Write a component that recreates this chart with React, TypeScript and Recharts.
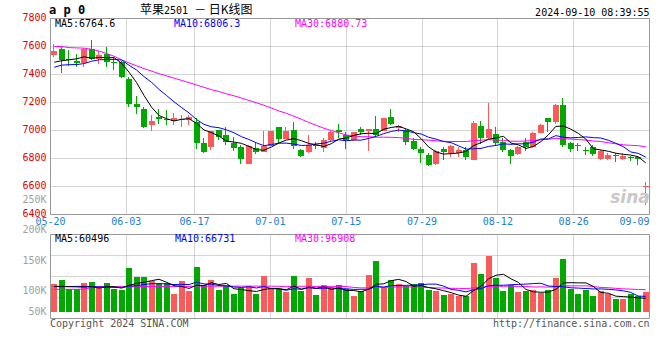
import React from 'react';
import { ComposedChart, Bar, Line, XAxis, YAxis, CartesianGrid } from 'recharts';

// ---------- data ----------
const DATES = [
  '05-21','05-22','05-23','05-24','05-27','05-28','05-29','05-30','05-31','06-03',
  '06-04','06-05','06-06','06-07','06-11','06-12','06-13','06-14','06-17','06-18',
  '06-19','06-20','06-21','06-24','06-25','06-26','06-27','06-28','07-01','07-02',
  '07-03','07-04','07-05','07-08','07-09','07-10','07-11','07-12','07-15','07-16',
  '07-17','07-18','07-19','07-22','07-23','07-24','07-25','07-26','07-29','07-30',
  '07-31','08-01','08-02','08-05','08-06','08-07','08-08','08-09','08-12','08-13',
  '08-14','08-15','08-16','08-19','08-20','08-21','08-22','08-23','08-26','08-27',
  '08-28','08-29','08-30','09-02','09-03','09-04','09-05','09-06','09-09','09-10',
];

const OPEN = [
  7540, 7580, 7512, 7493, 7483, 7583, 7512, 7548, 7490, 7488,
  7369, 7190, 7155, 7036, 7100, 7084, 7067, 7077, 7076, 7060,
  6914, 6881, 7000, 6971, 6912, 6881, 6762, 6876, 6848, 6890,
  7024, 6938, 7005, 6860, 6843, 6898, 6876, 6931, 7002, 6971,
  6931, 7010, 7000, 7010, 7000, 7100, 7021, 7007, 6924, 6871,
  6824, 6760, 6867, 6836, 6836, 6860, 6788, 7031, 6948, 6974,
  6919, 6864, 6831, 6919, 6879, 6983, 7086, 7062, 7181, 6914,
  6893, 6862, 6879, 6793, 6793, 6826, 6793, 6810, 6812, 6600,
];
const HIGH = [
  7618, 7595, 7572, 7548, 7590, 7643, 7567, 7600, 7524, 7500,
  7381, 7250, 7171, 7114, 7155, 7150, 7124, 7114, 7112, 7090,
  6948, 7000, 7005, 7024, 6952, 6893, 6900, 6919, 6995, 6997,
  7026, 7024, 7060, 6871, 6967, 6919, 6943, 6995, 7045, 6986,
  6990, 7024, 7012, 7102, 7090, 7152, 7038, 7014, 6943, 6880,
  6836, 6860, 6883, 6895, 6883, 6883, 7069, 7067, 7200, 7026,
  6943, 6871, 6888, 6950, 6990, 7050, 7088, 7190, 7231, 6920,
  6914, 6883, 6895, 6864, 6836, 6836, 6836, 6821, 6817, 6633,
];
const LOW = [
  7526, 7410, 7464, 7452, 7452, 7505, 7476, 7452, 7433, 7376,
  7167, 7119, 7017, 7000, 7048, 7036, 7040, 7024, 7036, 6869,
  6838, 6862, 6929, 6893, 6857, 6762, 6760, 6829, 6843, 6888,
  6914, 6936, 6871, 6810, 6840, 6867, 6848, 6928, 6948, 6871,
  6928, 6967, 6852, 6955, 6995, 7040, 6990, 6895, 6860, 6769,
  6748, 6752, 6788, 6812, 6812, 6788, 6788, 6902, 6940, 6895,
  6848, 6760, 6824, 6855, 6876, 6980, 6990, 7050, 6883, 6848,
  6855, 6824, 6817, 6790, 6790, 6776, 6788, 6783, 6757, 6467,
];
const CLOSE = [
  7566, 7505, 7500, 7479, 7583, 7512, 7536, 7488, 7484, 7381,
  7190, 7167, 7024, 7071, 7081, 7078, 7086, 7083, 7095, 6910,
  6845, 6993, 6957, 6917, 6876, 6798, 6886, 6843, 6890, 6995,
  6938, 6995, 6890, 6819, 6895, 6893, 6931, 6990, 6986, 6931,
  6986, 6990, 7010, 6971, 7088, 7048, 7031, 6919, 6871, 6840,
  6752, 6852, 6843, 6888, 6860, 6812, 7057, 6948, 7010, 6912,
  6864, 6819, 6881, 6883, 6983, 7038, 7062, 7181, 6895, 6871,
  6888, 6860, 6831, 6855, 6824, 6820, 6819, 6805, 6793, 6605,
];

const MA5 = [
  7488, 7498, 7505, 7512, 7526.6, 7515.8, 7522, 7519.6, 7520.6, 7480.2,
  7415.8, 7342, 7249.2, 7166.6, 7106.6, 7084.2, 7068, 7079.8, 7084.6, 7050.4,
  7003.8, 6985.2, 6960, 6924.4, 6917.6, 6908.2, 6886.8, 6864, 6858.6, 6882.4,
  6910.4, 6932.2, 6941.6, 6927.4, 6907.4, 6898.4, 6885.6, 6905.6, 6939, 6946.2,
  6964.8, 6976.6, 6980.6, 6977.6, 7009, 7021.4, 7029.6, 7011.4, 6991.4, 6941.8,
  6882.6, 6846.8, 6831.6, 6835, 6839, 6851, 6892, 6913, 6937.4, 6947.8,
  6958.2, 6910.6, 6897.2, 6871.8, 6886, 6920.8, 6969.4, 7029.4, 7031.8, 7009.4,
  6979.4, 6939, 6869, 6861, 6851.6, 6838, 6829.8, 6824.6, 6812.2, 6768.4,
];
const MA10 = [
  7452, 7467, 7470, 7471, 7478, 7495, 7505, 7507, 7508, 7503.4,
  7465.8, 7432, 7384.4, 7343.6, 7293.4, 7250, 7205, 7164.5, 7125.6, 7078.5,
  7044, 7026.6, 7019.9, 7004.5, 6984, 6956, 6936, 6912, 6891.5, 6900,
  6909.3, 6909.5, 6902.8, 6893, 6894.9, 6904.4, 6908.9, 6923.6, 6933.2, 6926.8,
  6931.6, 6931.1, 6943.1, 6958.3, 6977.6, 6993.1, 7003.1, 6996, 6984.5, 6975.4,
  6952, 6938.2, 6921.5, 6913.2, 6890.4, 6866.8, 6869.4, 6872.3, 6886.2, 6893.4,
  6904.6, 6901.3, 6905.1, 6904.6, 6916.9, 6939.5, 6940, 6963.3, 6951.8, 6947.7,
  6950.1, 6954.2, 6949.2, 6946.4, 6930.5, 6908.7, 6884.4, 6846.8, 6836.6, 6810,
];
const MA30 = [
  7600, 7600, 7592, 7590, 7588, 7580, 7567, 7550, 7530, 7505,
  7482, 7462, 7442, 7424, 7406, 7390, 7374, 7358, 7342, 7325,
  7308, 7292, 7278, 7262, 7248, 7232, 7215, 7198, 7180, 7160.6,
  7139.7, 7122.7, 7102.4, 7080.4, 7057.4, 7036.8, 7016.6, 7000, 6983.4, 6968.4,
  6961.6, 6955.7, 6955.3, 6951.9, 6952.2, 6951.2, 6949.3, 6943.9, 6936.4, 6934.1,
  6931, 6926.3, 6922.5, 6921.5, 6921, 6921.4, 6927.1, 6930.6, 6934.6, 6931.9,
  6929.4, 6923.5, 6923.2, 6925.4, 6928.3, 6933.1, 6937.5, 6943.9, 6940.8, 6938.8,
  6935.6, 6931.2, 6925.3, 6921.4, 6912.6, 6905, 6897.9, 6894.1, 6891.5, 6883.7,
];

// volume in thousands of lots
const VOL = [
  115, 131, 93, 93, 119, 123, 104, 119, 94, 90,
  180, 143, 143, 127, 118, 118, 74, 127, 86, 184,
  112, 131, 90, 109, 74, 97, 107, 74, 149, 97,
  94, 82, 149, 86, 139, 70, 112, 97, 111, 93,
  67, 86, 152, 209, 104, 131, 113, 107, 113, 118,
  90, 86, 70, 74, 66, 67, 202, 156, 230, 139,
  86, 109, 82, 86, 90, 78, 90, 139, 217, 95,
  74, 90, 67, 86, 74, 53, 53, 74, 67, 82,
];
const VMA5 = [
  105, 105, 104, 103, 102.2, 103.8, 98.4, 103.6, 103.8, 98,
  109.4, 117.2, 122, 128.6, 134.2, 121.8, 108, 104.8, 96.6, 109.8,
  108.6, 120, 112.6, 117.2, 95.2, 92.2, 87.4, 84.2, 92.2, 96.8,
  96.2, 91.2, 106.2, 93.6, 102, 97.2, 103.2, 92.8, 97.8, 88.6,
  88, 82.8, 93.8, 113.4, 115.6, 128.4, 133.8, 124.8, 105.6, 108.4,
  100.2, 94.8, 87.4, 79.6, 69.2, 64.6, 87.8, 105, 136.2, 150.8,
  154.6, 136, 121.2, 92.4, 82.6, 81, 81.6, 93, 119.2, 120.2,
  119.4, 119.4, 105, 80, 77, 65, 63, 61, 58, 56,
];
const VMA10 = [
  104, 104, 104, 105, 105, 104, 103, 102, 101, 100.1,
  106.6, 107.8, 112.8, 116.2, 116.1, 115.6, 112.6, 113.4, 112.6, 122,
  115.2, 114, 108.7, 106.9, 102.5, 100.4, 103.7, 98.4, 104.7, 96,
  94.2, 89.3, 95.2, 92.9, 99.4, 96.7, 97.2, 99.5, 95.7, 95.3,
  92.6, 93, 93.3, 105.6, 102.1, 108.2, 108.3, 109.3, 109.5, 112,
  114.3, 114.3, 106.1, 92.6, 88.8, 82.4, 91.3, 96.2, 107.9, 110,
  109.6, 111.9, 113.1, 114.3, 116.7, 117.8, 106.6, 104.9, 103.6, 99.2,
  98, 96.1, 94.6, 94.6, 93, 90.5, 86.8, 80.3, 65.3, 64,
];
const VMA30 = [
  93, 93, 93, 93, 94, 100, 104, 104, 104, 104,
  104, 104, 104, 105, 105, 105, 105, 105, 105, 106,
  106, 106, 106, 106, 106, 106, 106, 106, 106, 106,
  105.3, 103.7, 105.6, 105.3, 106, 104.2, 104.5, 103.8, 104.3, 104.4,
  100.7, 98.8, 99.1, 101.8, 101.3, 101.8, 103.1, 102.4, 103.3, 101.1,
  100.4, 98.9, 98.2, 97, 96.8, 95.8, 98.9, 101.7, 104.4, 105.8,
  105.5, 106.4, 104.2, 104.2, 102.5, 102.8, 102.1, 103.5, 107, 107.1,
  107.3, 107.4, 104.6, 100.5, 99.5, 96.9, 94.9, 93.8, 92.3, 91.1,
];

const TICK_POS = [0, 10, 19, 29, 39, 49, 59, 69, 79];
const TICK_LABELS = ['05-20', '06-03', '06-17', '07-01', '07-15', '07-29', '08-12', '08-26', '09-09'];
const PRICE_TICKS = [6400, 6600, 6800, 7000, 7200, 7400, 7600, 7800];
const VOL_LABEL_TICKS = [50, 100, 150, 200, 250];

const PRICE_LEGEND = [
  { text: 'MA5:6764.6', color: '#000000', x: 55 },
  { text: 'MA10:6806.3', color: '#0000ff', x: 174 },
  { text: 'MA30:6880.73', color: '#ff00ff', x: 295 },
];
const VOL_LEGEND = [
  { text: 'MA5:60496', color: '#000000', x: 55 },
  { text: 'MA10:66731', color: '#0000ff', x: 175 },
  { text: 'MA30:96908', color: '#ff00ff', x: 295 },
];

// ---------- styling ----------
const RED = '#fa5a5a';
const GREEN = '#00a800';
const PRICE_RED = '#e00000';
const DATE_BLUE = '#1a80d0';
const LABEL_GRAY = '#a0a0a0';
const BORDER = '#999999';
const GRID = '#a8a8a8';
const FONT = "'DejaVu Sans Mono', 'Liberation Mono', monospace";
const DAY_SPAN = 79;

const priceData = DATES.map((date, i) => ({
  date,
  t: i,
  open: OPEN[i],
  high: HIGH[i],
  low: LOW[i],
  close: CLOSE[i],
  range: [LOW[i], HIGH[i]],
  ma5: MA5[i],
  ma10: MA10[i],
  ma30: MA30[i],
}));

const volData = DATES.map((date, i) => ({
  date,
  vol: VOL[i],
  up: CLOSE[i] >= OPEN[i],
  vma5: VMA5[i],
  vma10: VMA10[i],
  vma30: VMA30[i],
}));

// ---------- grid generators ----------
const innerVerticals = (p: any) => {
  const o = p.offset;
  return TICK_POS.filter((v) => v > 0 && v < DAY_SPAN).map(
    (v) => Math.floor(o.left + (o.width * v) / DAY_SPAN) + 0.5
  );
};
const frameV = (p: any) => [p.offset.left, p.offset.left + p.offset.width];
const frameH = (p: any) => [p.offset.top, p.offset.top + p.offset.height];
const quarterH = (p: any) => [1, 2, 3].map((k) => p.offset.top + (p.offset.height * k) / 4);

// ---------- shapes ----------
const Candle = (props: any) => {
  const { x, y, width, height, payload } = props;
  if (x == null || y == null || !payload) return null;
  const top = Math.min(y, y + height);
  const h = Math.abs(height);
  const { open, close, high, low } = payload;
  const span = high - low || 1;
  const py = (v: number) => top + ((high - v) / span) * h;
  const color = close >= open ? RED : GREEN;
  const cx = x + width / 2;
  const left = Math.round(cx - 3);
  const wx = left + 2.5;
  const bTop = Math.round(py(Math.max(open, close)));
  const bBot = Math.round(py(Math.min(open, close)));
  return (
    <g>
      <line x1={wx} x2={wx} y1={Math.round(top)} y2={Math.round(top + h)} stroke={color} strokeWidth={1} />
      <rect x={left} y={bTop} width={6} height={Math.max(1, bBot - bTop)} fill={color} />
    </g>
  );
};

const VolBar = (props: any) => {
  const { x, y, width, height, payload } = props;
  if (x == null || y == null || !payload) return null;
  const cx = x + width / 2;
  const left = Math.round(cx - 3);
  const top = Math.round(Math.min(y, y + height));
  const bottom = Math.round(Math.max(y, y + height));
  return <rect x={left} y={top} width={6} height={Math.max(1, bottom - top)} fill={payload.up ? RED : GREEN} />;
};

const DateTick = (props: any) => {
  const { x, y, index } = props;
  const last = index === TICK_LABELS.length - 1;
  return (
    <text x={x} y={y} dy={10.5} textAnchor={last ? 'end' : 'middle'} fill={DATE_BLUE} fontSize={10} fontFamily={FONT}>
      {TICK_LABELS[index]}
    </text>
  );
};

const PriceTick = (props: any) => {
  const { x, y, payload } = props;
  return (
    <text x={x} y={y} dy={2.3} textAnchor="end" fill={PRICE_RED} fontSize={10} fontFamily={FONT}>
      {payload.value}
    </text>
  );
};

const VOL_LABEL_FLOOR = 121; // lowest label line inside the volume panel
const VolTick = (props: any) => {
  const { x, y, payload } = props;
  return (
    <text x={x} y={Math.min(y, VOL_LABEL_FLOOR)} dy={3.5} textAnchor="end" fill={LABEL_GRAY} fontSize={10} fontFamily={FONT}>
      {payload.value}K
    </text>
  );
};

export default function App() {
  return (
    <div style={{ position: 'absolute', left: 0, top: 0, width: 660, height: 360, background: '#fff', overflow: 'hidden' }}>
      {/* price panel */}
      <div style={{ position: 'absolute', left: 0, top: 0 }}>
        <ComposedChart width={660} height={234} data={priceData} margin={{ top: 18.5, right: 10.5, left: 0, bottom: 0 }}>
          <XAxis dataKey="date" hide height={0} />
          <XAxis
            xAxisId="t"
            type="number"
            dataKey="t"
            domain={[0, DAY_SPAN]}
            allowDataOverflow
            ticks={TICK_POS}
            interval={0}
            height={19.5}
            axisLine={false}
            tickLine={false}
            tickSize={0}
            tickMargin={0}
            tick={(p: any) => <DateTick {...p} />}
          />
          <YAxis
            domain={[6400, 7800]}
            allowDataOverflow
            ticks={PRICE_TICKS}
            interval={0}
            width={50.5}
            axisLine={false}
            tickLine={false}
            tickSize={0}
            tickMargin={4}
            tick={(p: any) => <PriceTick {...p} />}
          />
          <CartesianGrid stroke={GRID} strokeDasharray="1 1" verticalCoordinatesGenerator={innerVerticals} />
          <Bar dataKey="range" shape={Candle} isAnimationActive={false} />
          <Line type="linear" dataKey="ma30" stroke="#ff00ff" strokeWidth={1} dot={false} activeDot={false} isAnimationActive={false} />
          <Line type="linear" dataKey="ma10" stroke="#0000ff" strokeWidth={1} dot={false} activeDot={false} isAnimationActive={false} />
          <Line type="linear" dataKey="ma5" stroke="#000000" strokeWidth={1} dot={false} activeDot={false} isAnimationActive={false} />
          <CartesianGrid stroke={BORDER} verticalCoordinatesGenerator={frameV} horizontalCoordinatesGenerator={frameH} />
        </ComposedChart>
      </div>

      {/* volume panel */}
      <div style={{ position: 'absolute', left: 0, top: 190 }}>
        <ComposedChart width={660} height={170} data={volData} margin={{ top: 44.5, right: 10.5, left: 0, bottom: 41.5 }}>
          <XAxis dataKey="date" hide height={0} />
          <YAxis domain={[-26.65, 317.75]} allowDataOverflow hide width={0} />
          <YAxis
            yAxisId="lab"
            type="number"
            domain={[54.2, 192.4]}
            allowDataOverflow
            ticks={VOL_LABEL_TICKS}
            interval={0}
            width={50.5}
            axisLine={false}
            tickLine={false}
            tickSize={0}
            tickMargin={4}
            tick={(p: any) => <VolTick {...p} />}
          />
          <CartesianGrid
            stroke={GRID}
            strokeDasharray="1 1"
            verticalCoordinatesGenerator={innerVerticals}
            horizontalCoordinatesGenerator={quarterH}
          />
          <Bar dataKey="vol" shape={VolBar} isAnimationActive={false} />
          <Line type="linear" dataKey="vma30" stroke="#ff00ff" strokeWidth={1} dot={false} activeDot={false} isAnimationActive={false} />
          <Line type="linear" dataKey="vma10" stroke="#0000ff" strokeWidth={1} dot={false} activeDot={false} isAnimationActive={false} />
          <Line type="linear" dataKey="vma5" stroke="#000000" strokeWidth={1} dot={false} activeDot={false} isAnimationActive={false} />
          <CartesianGrid stroke={BORDER} verticalCoordinatesGenerator={frameV} horizontalCoordinatesGenerator={frameH} />
        </ComposedChart>
      </div>

      {/* texts */}
      <svg width={660} height={360} style={{ position: 'absolute', left: 0, top: 0, pointerEvents: 'none' }}>
        <text x={49} y={14} fontSize={12} fontWeight="bold" fontFamily={FONT} fill="#000">a p 0</text>
        <text x={140} y={14} fill="#000">
          <tspan fontSize={12} fontFamily="'Noto Sans CJK SC', sans-serif">苹果</tspan>
          <tspan fontSize={10} fontFamily={FONT}>2501 </tspan>
          <tspan fontSize={12} fontFamily="'Noto Sans CJK SC', sans-serif">－ 日K线图</tspan>
        </text>
        <text x={649.5} y={15.5} textAnchor="end" fontSize={10} fontFamily={FONT} fill="#000">2024-09-10 08:39:55</text>
        {PRICE_LEGEND.map((l) => (
          <text key={l.text} x={l.x} y={27} fontSize={10} fontFamily={FONT} fill={l.color}>{l.text}</text>
        ))}
        {VOL_LEGEND.map((l) => (
          <text key={l.text} x={l.x} y={242} fontSize={10} fontFamily={FONT} fill={l.color}>{l.text}</text>
        ))}
        <text x={630} y={203} textAnchor="middle" fontSize={17} fontStyle="italic" fontWeight="bold" fontFamily="'DejaVu Sans', sans-serif" fill="#c8c8c8">sina</text>
        <text x={50} y={327} fontSize={10} fontFamily={FONT} fill="#555">Copyright 2024 SINA.COM</text>
        <text x={649.5} y={327} textAnchor="end" fontSize={10} fontFamily={FONT} fill="#555">http://finance.sina.com.cn</text>
      </svg>
    </div>
  );
}
